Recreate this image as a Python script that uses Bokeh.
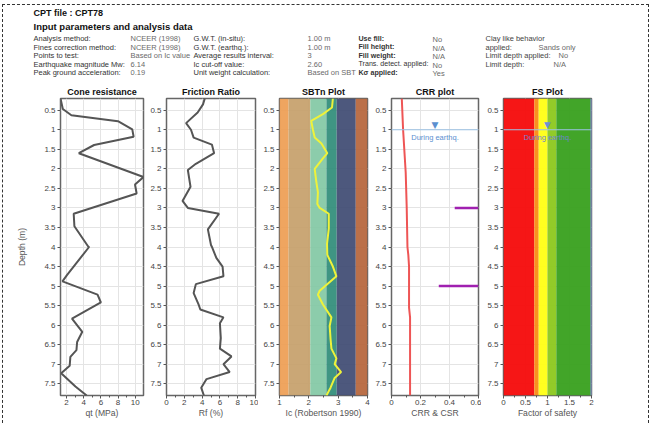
from bokeh.plotting import figure
from bokeh.layouts import row, column
from bokeh.models import Range1d, FixedTicker, CustomJSTickFormatter, BoxAnnotation, Span, ColumnDataSource
from bokeh.core.properties import value
from bokeh.embed import file_html
from bokeh.resources import INLINE

FONT = "Liberation Sans"

# ---------------- data ----------------
depth_min = 0.2
depth_max = 7.8
depth_ticks = [0.5, 1, 1.5, 2, 2.5, 3, 3.5, 4, 4.5, 5, 5.5, 6, 6.5, 7, 7.5]

cone_depth = [0.2, 0.47, 0.63, 0.78, 0.99, 1.18, 1.39, 1.6, 2.21, 2.4, 2.63, 3.15, 3.47, 3.98,
              4.0, 4.72, 4.88, 5.22, 5.42, 5.83, 6.17, 6.43, 6.64, 6.81, 7.04, 7.23, 7.57, 7.8]
cone_qt = [1.29, 1.56, 2.56, 7.99, 9.66, 9.82, 5.21, 3.43, 10.97, 9.98, 10.17, 2.83, 2.91, 4.5,
           4.62, 2.04, 1.52, 5.61, 6.0, 2.63, 3.83, 3.23, 3.15, 2.44, 2.36, 1.37, 3.03, 4.34]

fr_depth = [0.2, 0.35, 0.56, 0.83, 1.0, 1.2, 1.38, 1.6, 1.87, 2.03, 2.46, 2.82, 3.0, 3.15, 3.55, 3.95,
            4.02, 4.28, 4.5, 4.75, 4.95, 5.18, 5.47, 5.6, 5.8, 5.95, 6.33, 6.6, 6.8, 7.0, 7.2, 7.38, 7.6, 7.8]
fr_rf = [4.3, 4.1, 3.5, 2.2, 2.75, 3.05, 5.1, 5.35, 3.3, 2.4, 2.7, 1.8, 2.4, 5.9, 4.65, 5.0,
         5.15, 5.6, 6.3, 6.4, 3.3, 3.05, 3.6, 3.8, 6.4, 6.0, 6.1, 6.0, 7.3, 6.4, 7.1, 4.5, 3.9, 4.2]

ic_depth = [0.2, 0.43, 0.6, 0.77, 1.0, 1.2, 1.35, 1.6, 1.73, 2.0, 2.3, 2.6, 2.9, 3.0, 3.15, 3.53, 3.92,
            4.2, 4.5, 4.75, 5.12, 5.22, 5.47, 5.8, 6.02, 6.35, 6.6, 6.85, 7.0, 7.2, 7.35, 7.6, 7.8]
ic_values = [2.82, 2.79, 2.48, 2.08, 2.14, 2.2, 2.43, 2.63, 2.48, 2.2, 2.25, 2.31, 2.29, 2.37, 2.68, 2.68, 2.62,
             2.63, 2.82, 2.94, 2.37, 2.31, 2.48, 2.77, 2.71, 2.74, 2.77, 2.94, 2.88, 3.1, 2.88, 2.74, 2.6]

sbt_edges = [1.0, 1.31, 2.05, 2.6, 2.95, 3.6, 4.0]
sbt_colors = ["#EE9D52", "#C6A06A", "#82C8A4", "#2F8C78", "#3E4A72", "#B5643A"]

crr_depth = [0.2, 1.0, 2.1, 3.0, 4.0, 4.2, 4.5, 5.55, 5.8, 7.8]
crr_values = [0.071, 0.08, 0.098, 0.105, 0.11, 0.116, 0.121, 0.121, 0.128, 0.128]

csr_depth = [3.0, 5.0]
csr_start = [0.436, 0.326]
csr_end = [0.6, 0.6]

fs_edges = [0.0, 0.7, 0.8, 1.0, 1.2, 2.0]
fs_colors = ["#F50A0A", "#FA8A14", "#FFFF14", "#8CC81E", "#38A01E"]
fs_depth = [0.2, 7.8]
fs_values = [2.0, 2.0]

gwt_depth = 1.0
gwt_label = "During earthq."

hdr_title = "CPT file : CPT78"
hdr_subtitle = "Input parameters and analysis data"
col1_labels = ["Analysis method:", "Fines correction method:", "Points to test:",
               "Earthquake magnitude Mw:", "Peak ground acceleration:"]
col2_values = ["NCEER (1998)", "NCEER (1998)", "Based on Ic value", "6.14", "0.19"]
col3_labels = ["G.W.T. (in-situ):", "G.W.T. (earthq.):", "Average results interval:",
               "Ic cut-off value:", "Unit weight calculation:"]
col4_values = ["1.00 m", "1.00 m", "3", "2.60", "Based on SBT"]
col5_labels = ["Use fill:", "Fill height:", "Fill weight:", "Trans. detect. applied:", "K\u03c3 applied:"]
col5_styles = ["bold", "bold", "bold", "normal", "bold"]
col6_values = ["No", "N/A", "N/A", "No", "Yes"]
col7_labels = ["Clay like behavior", "applied:", "Limit depth applied:", "Limit depth:"]
col8_values = ["Sands only", "No", "N/A"]

# ---------------- layout constants ----------------
TOTAL_W = 645
HDR_H = 75
PANEL_H = 343
row_y = [33, 41.5, 50, 58.5, 67]
col_x = [30, 127, 190, 304, 355, 429, 482]
col8_x = [535, 555, 550]

# ---------------- header ----------------
hdr = figure(width=TOTAL_W, height=HDR_H, x_range=Range1d(0, TOTAL_W), y_range=Range1d(HDR_H, 0),
             x_axis_type=None, y_axis_type=None, toolbar_location=None, output_backend="svg",
             min_border=0)
hdr.grid.visible = False
hdr.outline_line_color = None


def htext(xs, ys, texts, size, color, style="normal"):
    if isinstance(style, str):
        style = [style] * len(texts)
    src = ColumnDataSource(dict(x=xs, y=ys, t=texts, s=style))
    hdr.text(x="x", y="y", text="t", source=src, text_font=value(FONT), text_font_size=size,
             text_color=color, text_font_style="s", text_baseline="middle", text_align="left")


SZ = "7.5px"
htext([col_x[0]], [7], [hdr_title], "9px", "#111111", "bold")
htext([col_x[0]], [21], [hdr_subtitle], "9.5px", "#111111", "bold")
htext([col_x[0]] * 5, row_y, col1_labels, SZ, "#333333")
htext([col_x[1]] * 5, row_y, col2_values, SZ, "#6a6a6a")
htext([col_x[2]] * 5, row_y, col3_labels, SZ, "#333333")
htext([col_x[3]] * 5, row_y, col4_values, SZ, "#6a6a6a")
htext([col_x[4]] * 5, row_y, col5_labels, "7.1px", "#333333", col5_styles)
htext([col_x[5]] * 5, [y + 1 for y in row_y], col6_values, SZ, "#6a6a6a")
htext([col_x[6]] * 4, row_y[:4], col7_labels, SZ, "#444444")
htext(col8_x, row_y[1:4], col8_values, SZ, "#6a6a6a")

# ---------------- panels ----------------


def make_panel(title, xlabel, xr, xticks, xminor, width, left, frame_w, ylabel=None):
    p = figure(width=width, height=PANEL_H, x_range=Range1d(*xr), y_range=Range1d(depth_max, depth_min),
               output_backend="svg", toolbar_location=None,
               min_border_left=left, min_border_right=width - left - frame_w,
               min_border_top=18, min_border_bottom=28)
    p.title.text = title
    p.title.align = "center"
    p.title.text_font = FONT
    p.title.text_font_size = "9px"
    p.title.text_font_style = "bold"
    p.title.text_color = "#111111"
    p.title.standoff = 4
    p.outline_line_color = "#666666"
    p.outline_line_width = 1.5
    xt = FixedTicker(ticks=xticks, minor_ticks=xminor)
    yt = FixedTicker(ticks=depth_ticks)
    p.xaxis.ticker = xt
    p.yaxis.ticker = yt
    p.xgrid.ticker = xt
    p.ygrid.ticker = yt
    for ax in (p.xaxis[0], p.yaxis[0]):
        ax.axis_line_color = None
        ax.major_tick_line_color = "#555555"
        ax.minor_tick_line_color = "#555555"
        ax.major_tick_out = 3
        ax.major_tick_in = 0
        ax.minor_tick_out = 2
        ax.minor_tick_in = 0
        ax.major_label_text_font = FONT
        ax.major_label_text_font_size = "8px"
        ax.major_label_text_color = "#444444"
        ax.major_label_standoff = 2
        ax.formatter = CustomJSTickFormatter(code="return String(Math.round(tick*1000)/1000);")
        ax.axis_label_text_font = FONT
        ax.axis_label_text_font_size = "8.6px"
        ax.axis_label_text_font_style = "normal"
        ax.axis_label_text_color = "#555555"
    p.xaxis[0].major_label_standoff = 1
    p.yaxis[0].minor_tick_line_color = None
    p.xaxis[0].axis_label = xlabel
    p.xaxis[0].axis_label_standoff = 0
    if ylabel:
        p.yaxis[0].axis_label = ylabel
        p.yaxis[0].axis_label_standoff = 14
    p.grid.grid_line_color = "#e4e4e4"
    p.grid.grid_line_width = 1
    return p


p1 = make_panel("Cone resistance", "qt (MPa)", (min(cone_qt), max(cone_qt)), [2, 4, 6, 8, 10],
                [3, 5, 7, 9], 143, 57, 83, "Depth (m)")
p1.line(cone_qt, cone_depth, line_color="#555555", line_width=2)

p2 = make_panel("Friction Ratio", "Rf (%)", (0, 10), [0, 2, 4, 6, 8, 10], [1, 3, 5, 7, 9], 112, 20, 89)
p2.line(fr_rf, fr_depth, line_color="#555555", line_width=2)

p3 = make_panel("SBTn Plot", "Ic (Robertson 1990)", (1, 4), [1, 2, 3, 4], [1.5, 2.5, 3.5], 112, 21, 88)
for i, c in enumerate(sbt_colors):
    p3.add_layout(BoxAnnotation(left=sbt_edges[i], right=sbt_edges[i + 1], fill_color=c, fill_alpha=0.92,
                                line_color=None, level="underlay"))
p3.line(ic_values, ic_depth, line_color="#EEF23A", line_width=2)

p4 = make_panel("CRR plot", "CRR & CSR", (0, 0.6), [0, 0.2, 0.4, 0.6], [0.1, 0.3, 0.5], 111, 21, 87)
p4.add_layout(Span(location=gwt_depth, dimension="width", line_color="#9DC3E6", line_width=1))
p4.line(crr_values, crr_depth, line_color="#EE5555", line_width=2)
p4.segment(x0=csr_start, y0=csr_depth, x1=csr_end, y1=csr_depth, line_color="#A020B0", line_width=2.5)
p4.text(x=[0.3], y=[gwt_depth], text=["\u25bc"], text_font=value("DejaVu Sans"), text_font_size="9px",
        text_color="#5B8FD0", text_align="center", text_baseline="bottom")
p4.text(x=[0.3], y=[gwt_depth], text=[gwt_label], text_font=value(FONT), text_font_size="7.5px",
        text_color="#5B8FD0", text_align="center", text_baseline="top", y_offset=3)

p5 = make_panel("FS Plot", "Factor of safety", (0, 2), [0, 0.5, 1, 1.5, 2], [0.25, 0.75, 1.25, 1.75],
                167, 22, 88)
for i, c in enumerate(fs_colors):
    p5.add_layout(BoxAnnotation(left=fs_edges[i], right=fs_edges[i + 1], fill_color=c, fill_alpha=0.95,
                                line_color=None, level="underlay"))
p5.add_layout(Span(location=gwt_depth, dimension="width", line_color="#9DC3E6", line_width=1))
p5.line(fs_values, fs_depth, line_color="#8C8CE6", line_width=2)
p5.text(x=[1.0], y=[gwt_depth], text=["\u25bc"], text_font=value("DejaVu Sans"), text_font_size="9px",
        text_color="#6C8FD8", text_align="center", text_baseline="bottom")
p5.text(x=[1.0], y=[gwt_depth], text=[gwt_label], text_font=value(FONT), text_font_size="7.5px",
        text_color="#6C84D0", text_align="center", text_baseline="top", y_offset=3)

plots = row(p1, p2, p3, p4, p5, spacing=0)
layout = column(hdr, plots, spacing=0, margin=(4, 0, 0, 2),
                styles={"border-top": "1px dashed #333", "border-left": "1px dashed #333",
                        "border-right": "1px dashed #333"})

open("out.html", "w").write(file_html(layout, INLINE))
